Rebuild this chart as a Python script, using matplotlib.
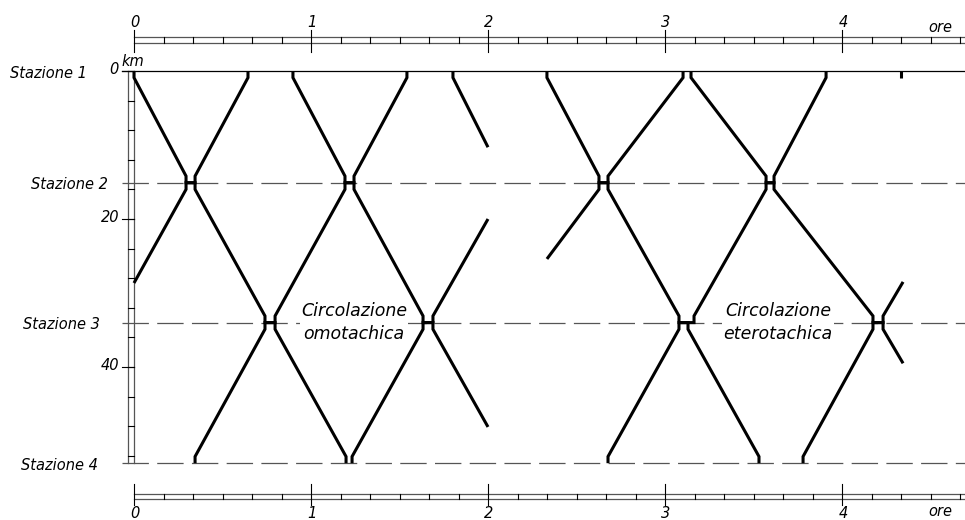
import numpy as np
import matplotlib
matplotlib.use("Agg")
import matplotlib.pyplot as plt

plt.rcParams['font.family'] = ['DejaVu Sans']
plt.rcParams['lines.scale_dashes'] = False

# stazioni (km)
station_names = ["Stazione 1", "Stazione 2", "Stazione 3", "Stazione 4"]
station_km = [0.0, 15.1, 34.0, 53.0]
label_right = [-0.266, -0.147, -0.192, -0.203]   # right edge of station labels (ore)

# treni: (km, arrivo [ore], partenza [ore])
# circolazione omotachica
u0 = [(28.65, 0.0, 0.0), (15.1, 0.294, 0.345), (0.0, 0.644, 0.644)]
d1 = [(0.0, 0.0, 0.0), (15.1, 0.294, 0.345), (34.0, 0.740, 0.797), (53.0, 1.198, 1.198)]
u1 = [(53.0, 0.345, 0.345), (34.0, 0.740, 0.797), (15.1, 1.192, 1.243), (0.0, 1.542, 1.542)]
d2 = [(0.0, 0.898, 0.898), (15.1, 1.192, 1.243), (34.0, 1.633, 1.689), (48.1, 2.0, 2.0)]
u2 = [(53.0, 1.232, 1.232), (34.0, 1.633, 1.689), (20.0, 2.0, 2.0)]
d3 = [(0.0, 1.802, 1.802), (10.3, 2.0, 2.0)]
# circolazione eterotachica
ur0 = [(25.4, 2.333, 2.333), (15.1, 2.627, 2.678), (0.0, 3.102, 3.102)]
dr1 = [(0.0, 2.333, 2.333), (15.1, 2.627, 2.678), (34.0, 3.079, 3.130), (53.0, 3.531, 3.531)]
ur1 = [(53.0, 2.678, 2.678), (34.0, 3.079, 3.164), (15.1, 3.571, 3.616), (0.0, 3.910, 3.910)]
dr2 = [(0.0, 3.147, 3.147), (15.1, 3.571, 3.616), (34.0, 4.175, 4.232), (39.5, 4.345, 4.345)]
ur2 = [(53.0, 3.780, 3.780), (34.0, 4.175, 4.232), (28.5, 4.345, 4.345)]
dr3 = [(0.0, 4.333, 4.333), (1.0, 4.333, 4.333)]
trains = [u0, d1, u1, d2, u2, d3, ur0, dr1, ur1, dr2, ur2, dr3]

hour_ticks = [0, 1, 2, 3, 4]
km_labels = [0, 20, 40]
stub = 0.9


def train_path(stops):
    pts = []
    n = len(stops)
    for i, (km, ta, td) in enumerate(stops):
        at_station = any(abs(km - s) < 1e-6 for s in station_km)
        if not at_station:
            pts.append((ta, km))
            continue
        if i > 0:
            s = np.sign(km - stops[i - 1][0])
            pts.append((ta, km - s * stub))
        pts.append((ta, km))
        pts.append((td, km))
        if i < n - 1:
            s = np.sign(stops[i + 1][0] - km)
            pts.append((td, km + s * stub))
    return np.array(pts)


fig = plt.figure(figsize=(9.65, 5.2), dpi=100)
ax = fig.add_axes([0, 0, 1, 1])
ax.set_xlim(-134 / 177, 831 / 177)
ax.set_ylim((520 - 71) / 7.4, -71 / 7.4)
ax.axis('off')

xmax = 831 / 177
tsc = 'italic'
fs = 10.5

# station lines
ax.plot([-0.068, xmax], [0, 0], color='black', lw=0.9)
for km in station_km[1:]:
    ax.plot([-0.068, xmax], [km, km], color='#555555', lw=0.9, dashes=(19, 6))
for name, km, xr in zip(station_names, station_km, label_right):
    ax.text(xr, km + 0.3, name, ha='right', va='center', fontsize=fs, style=tsc)

# time scales (top and bottom)
for y1, y2, ymaj0, ymaj1, ylab, yore in [(-4.53, -3.78, -5.55, -2.57, -6.5, -5.9),
                                          (57.16, 57.84, 55.8, 58.65, 59.8, 59.5)]:
    ax.plot([0, xmax], [y1, y1], color='#555555', lw=0.9)
    ax.plot([0, xmax], [y2, y2], color='#555555', lw=0.9)
    for k in range(1, 29):
        t = k / 6
        if t > xmax:
            break
        if k % 6:
            ax.plot([t, t], [y1, y2], color='black', lw=0.8)
    for h in hour_ticks:
        ax.plot([h, h], [ymaj0, ymaj1], color='black', lw=0.8)
        ax.text(h + 0.005, ylab, str(h), ha='center', va='center', fontsize=fs, style=tsc)
    ax.text(4.554, yore, 'ore', ha='center', va='center', fontsize=fs, style=tsc)

# km scale
xa, xb = -0.0339, 0.0
ax.plot([xa, xa], [0, 53], color='#555555', lw=0.9)
ax.plot([xb, xb], [0, 53], color='#555555', lw=0.9)
for km in range(0, 53, 4):
    ax.plot([xa, xb], [km, km], color='black', lw=0.8)
for km in km_labels:
    ax.plot([-0.068, xb], [km, km], color='black', lw=0.8)
    ax.text(-0.085, km - 0.2, str(km), ha='right', va='center', fontsize=fs, style=tsc)
ax.text(-0.072, -0.3, 'km', ha='left', va='bottom', fontsize=fs, style=tsc)

# trains
for tr in trains:
    p = train_path(tr)
    ax.plot(p[:, 0], p[:, 1], color='black', lw=2.2, solid_joinstyle='miter',
            solid_capstyle='butt')

# labels
bbox = dict(facecolor='white', edgecolor='none', pad=1)
ax.text((354 - 134) / 177, 34.0, 'Circolazione\nomotachica', ha='center', va='center',
        fontsize=12.5, style=tsc, linespacing=1.35, bbox=bbox)
ax.text((778 - 134) / 177, 34.0, 'Circolazione\neterotachica', ha='center', va='center',
        fontsize=12.5, style=tsc, linespacing=1.35, bbox=bbox)

fig.savefig('out.png', dpi=100)
